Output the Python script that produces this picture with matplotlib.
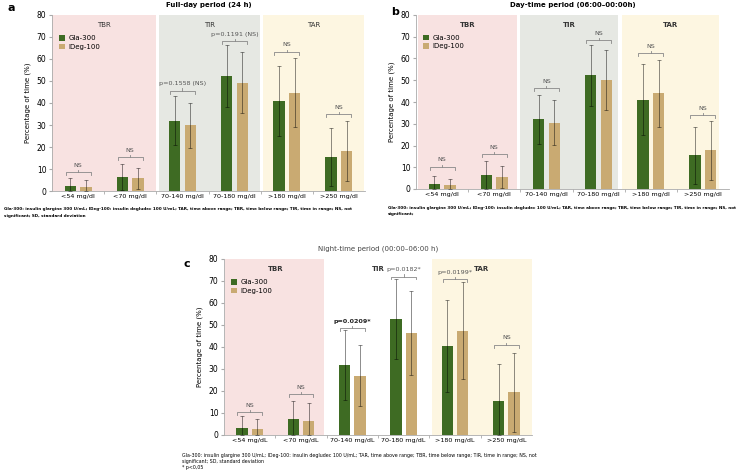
import matplotlib
matplotlib.use("Agg")
import matplotlib.pyplot as plt
import numpy as np

# categories
cats_dl = ["<54 mg/dl", "<70 mg/dl", "70-140 mg/dl", "70-180 mg/dl", ">180 mg/dl", ">250 mg/dl"]
cats_dL = ["<54 mg/dL", "<70 mg/dL", "70-140 mg/dL", "70-180 mg/dL", ">180 mg/dL", ">250 mg/dL"]

# panel a - full day
gla_a = [2.5, 6.5, 32.0, 52.3, 41.0, 15.5]
gla_a_sd = [3.5, 6.0, 11.2, 14.1, 16.0, 13.1]
ideg_a = [2.0, 5.8, 29.8, 49.3, 44.7, 18.2]
ideg_a_sd = [2.8, 4.7, 10.2, 13.9, 15.8, 13.7]
brk_a = [8.6, 15.5, 45.6, 68.2, 63.3, 35.0]
lab_a = ["NS", "NS", "p=0.1558 (NS)", "p=0.1191 (NS)", "NS", "NS"]

# panel b - day time
gla_b = [2.3, 6.3, 32.0, 52.3, 41.0, 15.5]
gla_b_sd = [3.9, 6.4, 11.3, 14.0, 16.3, 13.2]
ideg_b = [1.8, 5.5, 30.5, 50.2, 44.0, 17.8]
ideg_b_sd = [3.0, 5.0, 10.4, 13.7, 15.3, 13.6]
brk_b = [10.2, 16.0, 46.3, 68.5, 62.4, 33.9]
lab_b = ["NS", "NS", "NS", "NS", "NS", "NS"]

# panel c - night time
gla_c = [3.0, 7.4, 32.0, 52.9, 40.3, 15.3]
gla_c_sd = [5.5, 8.2, 15.9, 18.2, 20.9, 17.1]
ideg_c = [2.7, 6.5, 27.0, 46.4, 47.4, 19.4]
ideg_c_sd = [4.6, 8.0, 14.0, 18.9, 22.0, 18.1]
brk_c = [10.3, 18.6, 48.6, 72.0, 70.9, 41.0]
lab_c = ["NS", "NS", "p=0.0209*", "p=0.0182*", "p=0.0199*", "NS"]

ranges = ["TBR", "TIR", "TAR"]

GREEN = "#3e6b23"
TAN = "#c9aa72"
PINK = "#f8e2e1"
GREY = "#e6e8e3"
YELLOW = "#fdf6e1"

W, H = 753, 474
fig = plt.figure(figsize=(W / 100, H / 100), dpi=100)
plt.rcParams["font.family"] = "DejaVu Sans"


def px_axes(l, t, r, b):
    return fig.add_axes([l / W, 1 - b / H, (r - l) / W, (b - t) / H])


def draw_panel(ax, cats, gla, gla_sd, ideg, ideg_sd, brk, labs, spans, bold_ranges, bold_p):
    x = np.arange(len(cats))
    for (x0, x1, col), name in zip(spans, ranges):
        if col is not None:
            ax.axvspan(x0, x1, color=col, lw=0, zorder=0)
        ax.text((x0 + x1) / 2 if name != "TBR" else 0.5, 75.5, name,
                ha="center", va="center", fontsize=5,
                fontweight="bold" if bold_ranges else "normal", color="#333333")
    off, w = 0.15, 0.22
    ax.bar(x - off, gla, w, color=GREEN, label="Gla-300", zorder=2)
    ax.bar(x + off, ideg, w, color=TAN, label="IDeg-100", zorder=2)
    for xs, v, sd in [(x - off, gla, gla_sd), (x + off, ideg, ideg_sd)]:
        v = np.array(v)
        sd = np.array(sd)
        lo = np.minimum(sd, v)
        ax.errorbar(xs, v, yerr=[lo, sd], fmt="none", ecolor="k", alpha=0.45,
                    elinewidth=0.7, capsize=1.2, capthick=0.7, zorder=3)
    # significance brackets
    for i, (h, t) in enumerate(zip(brk, labs)):
        x0, x1 = i - 0.24, i + 0.24
        ax.plot([x0, x0, x1, x1], [h - 1.3, h, h, h - 1.3], color="#888888", lw=0.6, zorder=4)
        ax.plot([i, i], [h, h + 1.0], color="#888888", lw=0.6, zorder=4)
        fw = "bold" if (bold_p and t == "p=0.0209*") else "normal"
        ax.text(i, h + 2.0, t, ha="center", va="bottom", fontsize=4.6,
                color="#555555" if fw == "normal" else "#222222", fontweight=fw)
    ax.set_xlim(-0.5, 5.5)
    ax.set_ylim(0, 80)
    ax.set_yticks(range(0, 81, 10))
    ax.set_xticks(x)
    ax.set_xticklabels(cats, fontsize=4.6)
    ax.set_xticks(np.arange(0.5, 5.5, 1), minor=True)
    ax.tick_params(axis="x", which="major", length=0, pad=2)
    ax.tick_params(axis="x", which="minor", length=2, color="#aaaaaa")
    ax.tick_params(axis="y", labelsize=5.5, length=2, color="#aaaaaa", pad=2)
    for s in ["top", "right"]:
        ax.spines[s].set_visible(False)
    for s in ["left", "bottom"]:
        ax.spines[s].set_color("#aaaaaa")
        ax.spines[s].set_linewidth(0.6)
    ax.set_ylabel("Percentage of time (%)", fontsize=5, labelpad=4)
    ax.legend(loc="upper left", bbox_to_anchor=(0.015, 0.9), frameon=False, fontsize=5,
              handlelength=0.8, handleheight=0.8, handletextpad=0.5, labelspacing=0.3,
              borderaxespad=0)


ax_a = px_axes(52, 15, 365, 191)
draw_panel(ax_a, cats_dl, gla_a, gla_a_sd, ideg_a, ideg_a_sd, brk_a, lab_a,
           [(-0.5, 1.5, PINK), (1.56, 3.48, GREY), (3.54, 5.48, YELLOW)], False, False)
ax_a.set_title("Full-day period (24 h)", fontsize=5, fontweight="bold", pad=6)

ax_b = px_axes(416, 15, 729, 189)
draw_panel(ax_b, cats_dl, gla_b, gla_b_sd, ideg_b, ideg_b_sd, brk_b, lab_b,
           [(-0.46, 1.43, PINK), (1.5, 3.37, GREY), (3.44, 5.3, YELLOW)], True, False)
ax_b.set_title("Day-time period (06:00\u201300:00h)", fontsize=5, fontweight="bold", pad=6)

ax_c = px_axes(224, 259, 532, 435)
draw_panel(ax_c, cats_dL, gla_c, gla_c_sd, ideg_c, ideg_c_sd, brk_c, lab_c,
           [(-0.48, 1.45, PINK), (1.5, 3.5, None), (3.55, 5.5, YELLOW)], True, True)
ax_c.set_title("Night-time period (00:00\u201306:00 h)", fontsize=5, color="#444444", pad=6)

# panel letters
fig.text(8 / W, 1 - 8 / H, "a", fontsize=8, fontweight="bold", va="center")
fig.text(391 / W, 1 - 12 / H, "b", fontsize=8, fontweight="bold", va="center")
fig.text(184 / W, 1 - 264 / H, "c", fontsize=8, fontweight="bold", va="center")

cap = ("Gla-300: insulin glargine 300 U/mL; IDeg-100: insulin degludec 100 U/mL; TAR, time above range; "
       "TBR, time below range; TIR, time in range; NS, not")
fsb = 2.95
fsn = 3.45
fig.text(4 / W, 1 - 209 / H, cap, fontsize=fsb, fontweight="bold", va="center")
fig.text(4 / W, 1 - 216 / H, "significant; SD, standard deviation", fontsize=fsb, fontweight="bold", va="center")
fig.text(388 / W, 1 - 208 / H, cap, fontsize=fsb, fontweight="bold", va="center")
fig.text(388 / W, 1 - 214 / H, "significant;", fontsize=fsb, fontweight="bold", va="center")
fig.text(182 / W, 1 - 455 / H, cap, fontsize=fsn, va="center")
fig.text(182 / W, 1 - 461 / H, "significant; SD, standard deviation", fontsize=fsn, va="center")
fig.text(182 / W, 1 - 467 / H, "* p<0,05", fontsize=fsn, va="center")

fig.savefig("out.png", dpi=100)
